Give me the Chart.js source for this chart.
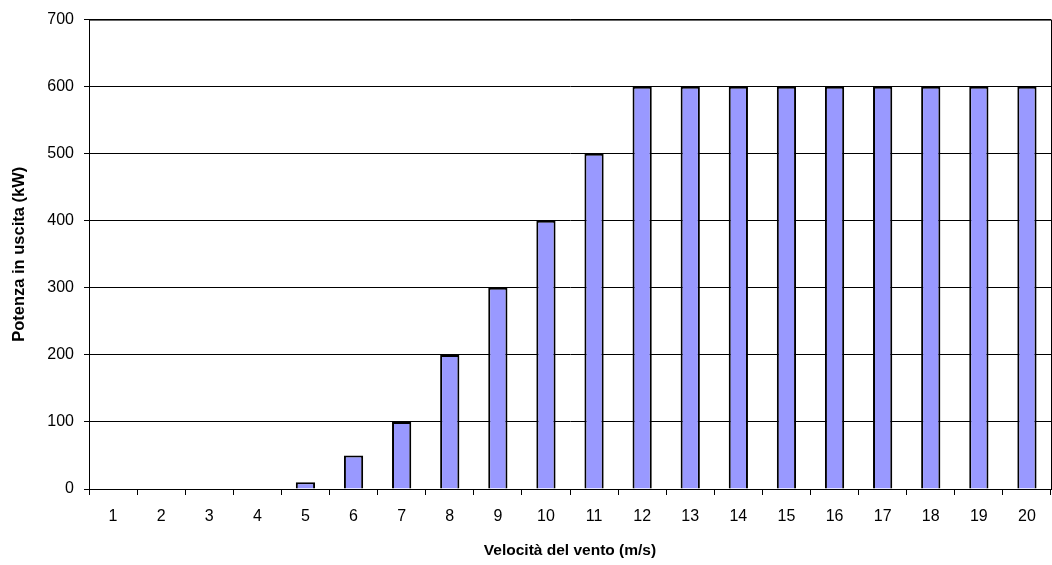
<!DOCTYPE html>
<html lang="it">
<head>
  <meta charset="UTF-8">
  <title>Potenza in uscita</title>
  <script src="https://cdn.jsdelivr.net/npm/chart.js"></script>
  <style>
    body { margin: 0; background: #fff; }
  </style>
</head>
<body>
  <canvas id="grafico" width="1052" height="565"></canvas>
  <script>
    const velocita = ['1','2','3','4','5','6','7','8','9','10','11','12','13','14','15','16','17','18','19','20'];
    const potenza = [0, 0, 0, 0, 10, 50, 100, 200, 300, 400, 500, 600, 600, 600, 600, 600, 600, 600, 600, 600];

    Chart.defaults.font.family = '"Liberation Sans", Arial, sans-serif';
    Chart.defaults.color = '#000';

    // cornice del plot (bordo superiore e destro)
    const cornice = {
      id: 'cornice',
      afterDraw(chart) {
        const { ctx, chartArea: a } = chart;
        ctx.save();
        ctx.strokeStyle = '#000';
        ctx.lineWidth = 1;
        ctx.strokeRect(a.left + 0.5, a.top + 0.5, a.right - a.left, a.bottom - a.top);
        ctx.restore();
      }
    };

    new Chart(document.getElementById('grafico'), {
      type: 'bar',
      data: {
        labels: velocita,
        datasets: [{
          data: potenza,
          backgroundColor: '#9999ff',
          borderColor: '#000',
          borderWidth: 2,
          barPercentage: 0.4,
          categoryPercentage: 1
        }]
      },
      options: {
        responsive: false,
        animation: false,
        layout: { padding: { top: 19, right: 1, left: 0, bottom: 0 } },
        plugins: { legend: { display: false }, tooltip: { enabled: false } },
        scales: {
          x: {
            grid: { drawOnChartArea: false, drawTicks: true, tickLength: 6, color: '#000' },
            border: { color: '#000', width: 1 },
            ticks: { font: { size: 16 }, padding: 12, maxRotation: 0 },
            title: {
              display: true,
              text: 'Velocità del vento (m/s)',
              font: { size: 15.5, weight: 'bold' },
              padding: { top: 0, bottom: 5 }
            },
            afterFit(s) { s.height = 76; }
          },
          y: {
            min: 0,
            max: 700,
            ticks: { stepSize: 100, font: { size: 16 }, padding: 10 },
            grid: { color: '#000', tickLength: 5 },
            border: { color: '#000', width: 1 },
            title: {
              display: true,
              text: 'Potenza in uscita (kW)',
              font: { size: 16.5, weight: 'bold' },
              padding: { top: 10, bottom: 0 }
            },
            afterFit(s) { s.width = 89; }
          }
        }
      },
      plugins: [cornice]
    });
  </script>
</body>
</html>
